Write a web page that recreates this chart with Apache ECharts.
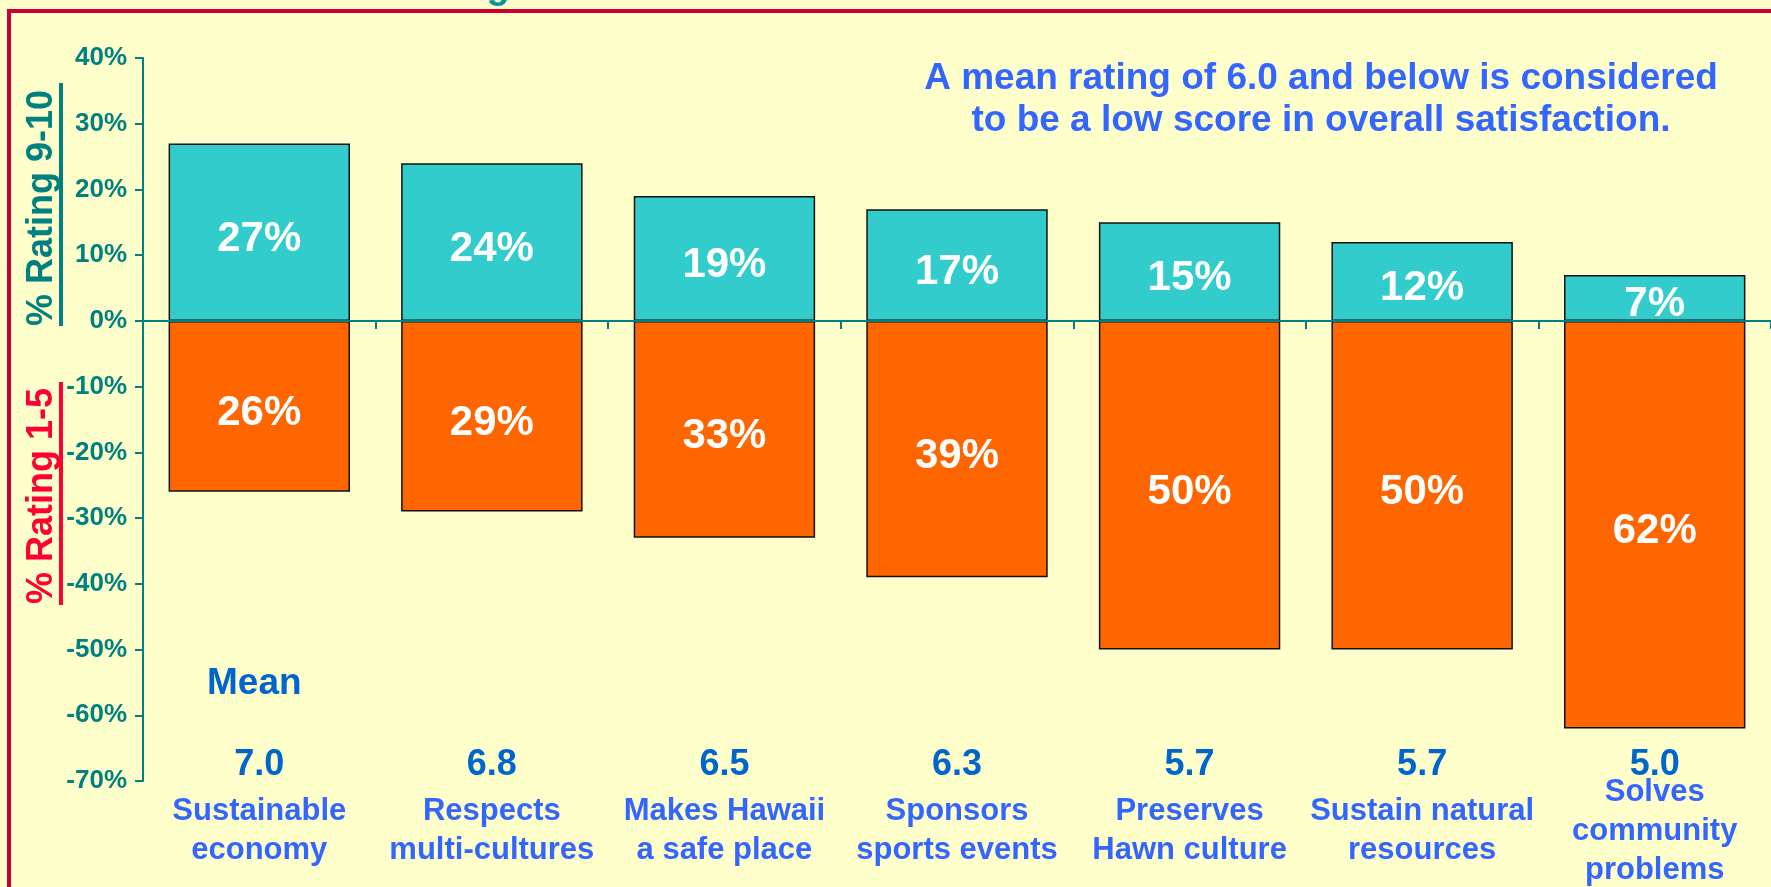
<!DOCTYPE html>
<html>
<head>
<meta charset="utf-8">
<title>Rating chart</title>
<script src="https://cdn.jsdelivr.net/npm/echarts@6/dist/echarts.min.js"></script>
<style>
html, body { margin: 0; padding: 0; background: #FFFFCC; }
#main { width: 1771px; height: 887px; }
</style>
</head>
<body>
<div id="main"></div>
<script>
// data
var categories = ['Sustainable\neconomy', 'Respects\nmulti-cultures', 'Makes Hawaii\na safe place',
    'Sponsors\nsports events', 'Preserves\nHawn culture', 'Sustain natural\nresources', 'Solves\ncommunity\nproblems'];
var meanScores = ['7.0', '6.8', '6.5', '6.3', '5.7', '5.7', '5.0'];
var topRating = [27, 24, 19, 17, 15, 12, 7];   // % Rating 9-10
var lowRating = [26, 29, 33, 39, 50, 50, 62];  // % Rating 1-5 (drawn below zero)
var yMin = -70, yMax = 40, yStep = 10;

var FONT = '"Liberation Sans", Arial, Helvetica, sans-serif';
var teal = '#008080';

var myChart = echarts.init(document.getElementById('main'), null, { renderer: 'canvas' });

var barLabel = {
    show: true,
    position: 'inside',
    offset: [0, 7],
    color: '#fff',
    fontFamily: FONT,
    fontWeight: 'bold',
    fontSize: 42,
    formatter: function (p) {
        return Math.abs(p.value) + '%';
    }
};

myChart.setOption({
    backgroundColor: '#FFFFCC',
    animation: false,
    textStyle: { fontFamily: FONT },
    grid: {
        left: 143, right: 0, top: 58, bottom: 106,
        containLabel: false,
        outerBoundsMode: 'none'
    },
    xAxis: [
        {
            // zero line with ticks between bars
            type: 'category',
            data: categories,
            position: 'bottom',
            z: 10,
            axisLine: { onZero: true, lineStyle: { color: teal, width: 2 } },
            axisTick: { show: true, length: 8, lineStyle: { color: teal, width: 2 } },
            axisLabel: { show: false }
        },
        {
            // mean score row
            type: 'category',
            data: meanScores,
            position: 'bottom',
            axisLine: { show: false, onZero: false },
            axisTick: { show: false },
            axisLabel: {
                interval: 0,
                inside: true,
                margin: 16,
                verticalAlign: 'middle',
                color: '#0066CC',
                fontFamily: FONT,
                fontWeight: 'bold',
                fontSize: 36
            }
        },
        {
            // category names
            type: 'category',
            data: categories,
            position: 'bottom',
            axisLine: { show: false, onZero: false },
            axisTick: { show: false },
            axisLabel: {
                interval: 0,
                margin: 50,
                verticalAlign: 'middle',
                lineHeight: 39,
                color: '#3366FF',
                fontFamily: FONT,
                fontWeight: 'bold',
                fontSize: 31
            }
        }
    ],
    yAxis: {
        type: 'value',
        min: yMin,
        max: yMax,
        interval: yStep,
        splitLine: { show: false },
        axisLine: { show: true, lineStyle: { color: teal, width: 2 } },
        axisTick: { show: true, length: 8, lineStyle: { color: teal, width: 2 } },
        axisLabel: {
            margin: 16,
            color: teal,
            fontFamily: FONT,
            fontWeight: 'bold',
            fontSize: 26,
            formatter: function (v) { return v + '%'; }
        }
    },
    series: [
        {
            name: '% Rating 9-10',
            type: 'bar',
            stack: 'rating',
            barCategoryGap: '22%',
            data: topRating,
            itemStyle: { color: '#33CCCC', borderColor: '#111', borderWidth: 1.5 },
            label: barLabel
        },
        {
            name: '% Rating 1-5',
            type: 'bar',
            stack: 'rating',
            barCategoryGap: '22%',
            data: lowRating.map(function (v) { return -v; }),
            itemStyle: { color: '#FF6600', borderColor: '#111', borderWidth: 1.5 },
            label: barLabel
        }
    ],
    graphic: [
        {
            // red frame
            type: 'rect', silent: true, z: 100,
            shape: { x: 9, y: 11, width: 1900, height: 1000 },
            style: { fill: 'none', stroke: '#CC0033', lineWidth: 4 }
        },
        {
            // bottom of the cut-off heading
            type: 'text', silent: true, x: 498, y: 7,
            style: { text: 'g', fill: '#009999', fontFamily: FONT, fontWeight: 'bold', fontSize: 38, align: 'center', verticalAlign: 'bottom' }
        },
        {
            type: 'text', silent: true, x: 42, y: 208, rotation: Math.PI / 2,
            style: { text: '% Rating 9-10', fill: teal, fontFamily: FONT, fontWeight: 'bold', fontSize: 36, align: 'center', verticalAlign: 'middle' }
        },
        {
            type: 'rect', silent: true,
            shape: { x: 59, y: 83, width: 4, height: 243 },
            style: { fill: teal }
        },
        {
            type: 'text', silent: true, x: 42, y: 496, rotation: Math.PI / 2,
            style: { text: '% Rating 1-5', fill: '#FF0033', fontFamily: FONT, fontWeight: 'bold', fontSize: 36, align: 'center', verticalAlign: 'middle' }
        },
        {
            type: 'rect', silent: true,
            shape: { x: 59, y: 382, width: 4, height: 223 },
            style: { fill: '#FF0033' }
        },
        {
            type: 'text', silent: true, x: 207, y: 684,
            style: { text: 'Mean', fill: '#0066CC', fontFamily: FONT, fontWeight: 'bold', fontSize: 37, align: 'left', verticalAlign: 'middle' }
        },
        {
            type: 'text', silent: true, x: 1321, y: 100,
            style: {
                text: 'A mean rating of 6.0 and below is considered\nto be a low score in overall satisfaction.',
                fill: '#3366FF', fontFamily: FONT, fontWeight: 'bold', fontSize: 37, lineHeight: 42,
                align: 'center', verticalAlign: 'middle'
            }
        }
    ]
});
</script>
</body>
</html>
